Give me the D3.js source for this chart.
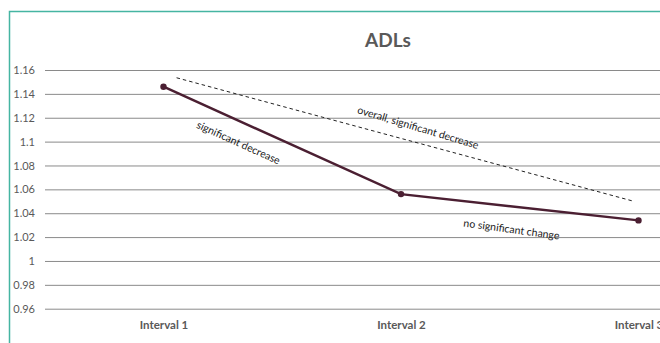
<!DOCTYPE html>
<html>
<head>
<meta charset="utf-8">
<script src="https://cdn.jsdelivr.net/npm/d3@7"></script>
<style>
  html, body { margin: 0; padding: 0; background: #fff; }
  svg { display: block; }
  .tick text { font-family: Lato, "DejaVu Sans", sans-serif; }
</style>
</head>
<body>
<svg id="chart" width="660" height="343"></svg>
<script>
// Mean ADL score at each interval
const categories = ["Interval 1", "Interval 2", "Interval 3"];
const adlValues = [1.146, 1.056, 1.034];
const yTicks = [0.96, 0.98, 1.0, 1.02, 1.04, 1.06, 1.08, 1.1, 1.12, 1.14, 1.16];
const yTickLabels = ["0.96", "0.98", "1", "1.02", "1.04", "1.06", "1.08", "1.1", "1.12", "1.14", "1.16"];

// Overall trend line: [category position, value] at each end
const trendIdx = [0.055, 1.98];
const trendValues = [1.1535, 1.050];

// Segment annotations
const noteTexts = ["significant decrease", "overall, significant decrease", "no significant change"];

const svg = d3.select("#chart");
const W = 660, H = 343;

const plotLeft = 45, plotRight = 760;
const x = d3.scalePoint().domain(categories).range([163.5, 638.5]);
const xIdx = d3.scaleLinear().domain([0, categories.length - 1]).range([x(categories[0]), x(categories[categories.length - 1])]);
const y = d3.scaleLinear().domain([0.96, 1.16]).range([308.7, 70]);

// Outer frame (top and left edges)
svg.append("path")
  .attr("d", `M9.5,${H} V11.5 H${W}`)
  .attr("fill", "none")
  .attr("stroke", "#45b5a2")
  .attr("stroke-width", 1.5);

// Title
svg.append("text")
  .attr("x", 388).attr("y", 47)
  .attr("text-anchor", "middle")
  .attr("font-family", "Lato, 'DejaVu Sans', sans-serif")
  .attr("font-weight", "bold")
  .attr("font-size", 19)
  .attr("fill", "#595959")
  .text("ADLs");

// Y axis with full-width gridlines
const yAxis = d3.axisLeft(y)
  .tickValues(yTicks)
  .tickFormat((d, i) => yTickLabels[i])
  .tickSize(-(plotRight - plotLeft))
  .tickPadding(10);

const gy = svg.append("g")
  .attr("transform", `translate(${plotLeft},0)`)
  .call(yAxis);
gy.select(".domain").remove();
gy.selectAll(".tick line").attr("stroke", "#8a8a8a").attr("stroke-width", 1);
gy.selectAll(".tick text")
  .attr("fill", "#595959")
  .attr("font-size", 11);

// X axis category labels
const xAxis = d3.axisBottom(x).tickSize(0).tickPadding(0);
const gx = svg.append("g")
  .attr("transform", `translate(0,320)`)
  .call(xAxis);
gx.select(".domain").remove();
gx.selectAll(".tick text")
  .attr("fill", "#595959")
  .attr("font-size", 11.5)
  .attr("font-weight", "bold")
  .attr("dy", "0.8em");

// Overall trend (dashed)
svg.append("line")
  .attr("x1", xIdx(trendIdx[0])).attr("y1", y(trendValues[0]))
  .attr("x2", xIdx(trendIdx[1])).attr("y2", y(trendValues[1]))
  .attr("stroke", "#222")
  .attr("stroke-width", 1)
  .attr("stroke-dasharray", "3.5,3");

// Main series
const line = d3.line()
  .x((d, i) => x(categories[i]))
  .y(d => y(d));

svg.append("path")
  .datum(adlValues)
  .attr("d", line)
  .attr("fill", "none")
  .attr("stroke", "#4b1f32")
  .attr("stroke-width", 2.5);

svg.selectAll("circle.pt")
  .data(adlValues)
  .join("circle")
  .attr("class", "pt")
  .attr("cx", (d, i) => x(categories[i]))
  .attr("cy", d => y(d))
  .attr("r", 3.2)
  .attr("fill", "#4b1f32");

// Annotations placed along the segments they describe
function angleBetween(x1, y1, x2, y2) {
  return Math.atan2(y2 - y1, x2 - x1) * 180 / Math.PI;
}
const segAngle1 = angleBetween(x(categories[0]), y(adlValues[0]), x(categories[1]), y(adlValues[1]));
const segAngle2 = angleBetween(x(categories[1]), y(adlValues[1]), x(categories[2]), y(adlValues[2]));
const trendAngle = angleBetween(xIdx(trendIdx[0]), y(trendValues[0]), xIdx(trendIdx[1]), y(trendValues[1]));

const notes = [
  { text: noteTexts[0], cx: 237, cy: 146, angle: segAngle1 },
  { text: noteTexts[1], cx: 417, cy: 131, angle: trendAngle + 1.5 },
  { text: noteTexts[2], cx: 511, cy: 233, angle: segAngle2 + 1.5 }
];

svg.selectAll("text.note")
  .data(notes)
  .join("text")
  .attr("class", "note")
  .attr("transform", d => `translate(${d.cx},${d.cy}) rotate(${d.angle})`)
  .attr("text-anchor", "middle")
  .attr("font-family", "Lato, 'DejaVu Sans', sans-serif")
  .attr("font-size", 10.5)
  .attr("fill", "#1a1a1a")
  .text(d => d.text);
</script>
</body>
</html>
